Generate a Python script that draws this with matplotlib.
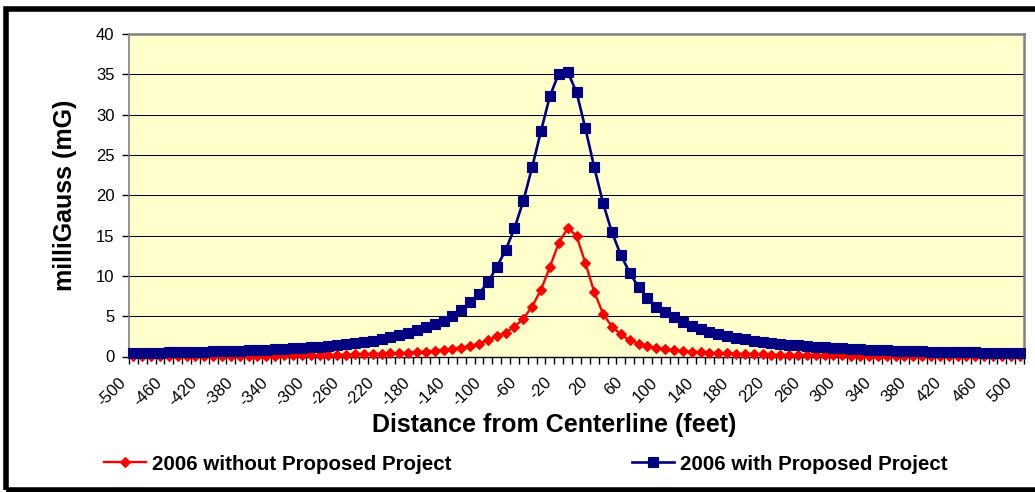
import matplotlib
matplotlib.use("Agg")
import matplotlib.pyplot as plt
from matplotlib.lines import Line2D
from matplotlib.patches import Rectangle
from matplotlib.transforms import ScaledTranslation

# ---------------- data ----------------
distance_ft = list(range(-500, 501, 10))

without_project = [
    0.05, 0.05, 0.05, 0.06, 0.06, 0.06, 0.07, 0.07, 0.07, 0.08,
    0.08, 0.09, 0.09, 0.10, 0.10, 0.11, 0.12, 0.13, 0.14, 0.15,
    0.16, 0.17, 0.19, 0.21, 0.23, 0.25, 0.28, 0.31, 0.34, 0.38,
    0.42, 0.47, 0.53, 0.61, 0.70, 0.82, 0.95, 1.10, 1.30, 1.60,
    2.00, 2.50, 2.95, 3.70, 4.70, 6.20, 8.30, 11.1, 14.1, 15.9,
    15.0, 11.6, 8.00, 5.30, 3.70, 2.75, 2.00, 1.60, 1.30, 1.05,
    0.90, 0.78, 0.68, 0.60, 0.53, 0.47, 0.42, 0.38, 0.34, 0.31,
    0.28, 0.26, 0.24, 0.22, 0.20, 0.19, 0.17, 0.16, 0.15, 0.14,
    0.13, 0.12, 0.12, 0.11, 0.10, 0.10, 0.09, 0.09, 0.08, 0.08,
    0.08, 0.07, 0.07, 0.07, 0.06, 0.06, 0.06, 0.06, 0.05, 0.05,
    0.05,
]

with_project = [
    0.42, 0.44, 0.46, 0.48, 0.50, 0.52, 0.54, 0.57, 0.60, 0.63,
    0.66, 0.69, 0.73, 0.77, 0.81, 0.85, 0.90, 0.95, 1.01, 1.08,
    1.15, 1.23, 1.32, 1.42, 1.53, 1.66, 1.81, 1.98, 2.17, 2.40,
    2.66, 2.95, 3.30, 3.65, 4.00, 4.40, 5.00, 5.80, 6.70, 7.80,
    9.20, 11.1, 13.2, 15.9, 19.3, 23.5, 28.0, 32.3, 35.1, 35.3,
    32.8, 28.3, 23.5, 19.0, 15.4, 12.6, 10.4, 8.60, 7.30, 6.20,
    5.50, 4.90, 4.30, 3.80, 3.35, 3.00, 2.75, 2.55, 2.35, 2.15,
    1.97, 1.82, 1.70, 1.58, 1.47, 1.38, 1.29, 1.21, 1.14, 1.07,
    1.01, 0.95, 0.90, 0.85, 0.81, 0.77, 0.73, 0.70, 0.67, 0.64,
    0.61, 0.58, 0.56, 0.54, 0.52, 0.50, 0.48, 0.46, 0.45, 0.43,
    0.42,
]

x_tick_labels = ['-500', '-460', '-420', '-380', '-340', '-300', '-260',
                 '-220', '-180', '-140', '-100', '-60', '-20', '20', '60',
                 '100', '140', '180', '220', '260', '300', '340', '380',
                 '420', '460', '500']
y_ticks = [0, 5, 10, 15, 20, 25, 30, 35, 40]

series_names = ['2006 without Proposed Project', '2006 with Proposed Project']
series_colors = ['#FF0000', '#000080']

plt.rcParams['font.family'] = ['Liberation Sans', 'DejaVu Sans']

# ---------------- figure ----------------
W, H = 1035, 492
fig = plt.figure(figsize=(W / 100, H / 100), dpi=100)
fig.patch.set_facecolor('white')

def fx(px):
    return px / W

def fy(py):
    return 1 - py / H

ax_l, ax_r, ax_t, ax_b = 129, 1024, 34, 356.5
ax = fig.add_axes([fx(ax_l), fy(ax_b), fx(ax_r - ax_l), (ax_b - ax_t) / H])
ax.set_facecolor('#FFFFCC')

idx = list(range(len(distance_ft)))

red_style = dict(color=series_colors[0], lw=1.7, marker='D', ms=5.6,
                 mfc=series_colors[0], mec=series_colors[0], mew=0.8)
blue_style = dict(color=series_colors[1], lw=1.9, marker='s', ms=7.0,
                  mfc=series_colors[1], mec=series_colors[1], mew=0.8)

ax.plot(idx, without_project, clip_on=False, zorder=3, **red_style)
ax.plot(idx, with_project, clip_on=False, zorder=4, **blue_style)

ax.set_xlim(-0.5, len(distance_ft) - 0.5)
ax.set_ylim(0, 40)

# y axis
ax.set_yticks(y_ticks)
ax.set_yticklabels([str(v) for v in y_ticks])
ax.tick_params(axis='y', direction='out', length=5, width=1, pad=5.5,
               labelsize=12, colors='black')
for v in y_ticks[1:-1]:
    ax.axhline(v, color='black', lw=0.75, zorder=1)

# x axis: category ticks at boundaries, labels every 4th category
tick_pos = [distance_ft.index(int(s)) for s in x_tick_labels]
ax.set_xticks(tick_pos)
ax.set_xticklabels(x_tick_labels, rotation=45, ha='right', va='center',
                   rotation_mode='anchor', fontsize=12)
ax.tick_params(axis='x', which='major', length=0, pad=17)
ax.set_xticks([i - 0.5 for i in range(len(distance_ft) + 1)], minor=True)
ax.tick_params(axis='x', which='minor', direction='out', length=5,
               width=1, color='black')
offset = ScaledTranslation(-9.5 / 100, 0, fig.dpi_scale_trans)
for lbl in ax.get_xticklabels():
    lbl.set_transform(lbl.get_transform() + offset)

for s in ['top', 'right']:
    ax.spines[s].set_color('#808080')
    ax.spines[s].set_linewidth(1.8)
ax.spines['left'].set_color('#808080')
ax.spines['left'].set_linewidth(1.2)
ax.spines['bottom'].set_color('black')
ax.spines['bottom'].set_linewidth(1.0)

# axis titles
fig.text(fx(554), fy(432), 'Distance from Centerline (feet)',
         ha='center', va='baseline', fontsize=18, fontweight='bold')
fig.text(fx(65), fy(195), 'milliGauss (mG)', rotation=90,
         ha='center', va='center', fontsize=18, fontweight='bold')

# legend (two entries placed like the original)
legend_font = {'weight': 'bold', 'size': 14.8}
h_red = Line2D([], [], **red_style)
h_blue = Line2D([], [], **blue_style)
for h, name, x0 in [(h_red, series_names[0], 104), (h_blue, series_names[1], 632)]:
    fig.legend([h], [name], loc='center left',
               bbox_to_anchor=(fx(x0), fy(464)), frameon=False,
               prop=legend_font, borderpad=0, borderaxespad=0,
               handlelength=2.05, handletextpad=0.3)

# chart border (black frame, cropped on the right)
frame = Rectangle((fx(5.5), fy(489.5)), 1.2, fy(9) - fy(489.5),
                  transform=fig.transFigure, fill=False, edgecolor='black',
                  lw=4.0, clip_on=False)
fig.add_artist(frame)

fig.savefig('out.png', dpi=100)
